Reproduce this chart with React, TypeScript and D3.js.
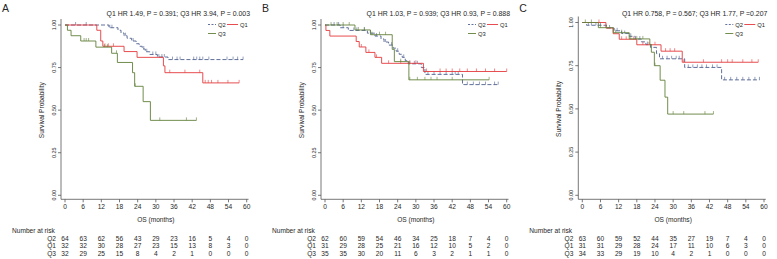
import React from "react";
import * as d3 from "d3";

// ---------- DATA ----------
const months = [0, 6, 12, 18, 24, 30, 36, 42, 48, 54, 60];
const yTicks = [0, 0.25, 0.5, 0.75, 1];
const groups = ["Q2", "Q1", "Q3"];

const titleA = "Q1 HR 1.49, P = 0.391; Q3 HR 3.94, P = 0.003";
const titleB = "Q1 HR 1.03, P = 0.939; Q3 HR 0.93, P = 0.888";
const titleC = "Q1 HR 0.758, P = 0.567; Q3 HR 1.77, P =0.207";

// events: [month, survival after event]
const eventsA_Q2 = [[14.5, 0.984], [17.5, 0.969], [18.5, 0.953], [19.5, 0.937], [20.5, 0.922], [22, 0.906], [23.5, 0.89], [24.5, 0.875], [25.5, 0.859], [26.5, 0.843], [28, 0.827], [30.5, 0.812], [34, 0.797]];
const censorA_Q2 = [3.5, 7, 14.8, 15.5, 20, 22.5, 26, 27, 29, 30, 31, 32, 32.8, 35.5, 37, 38, 42.5, 43.5, 44.5, 45.5, 47.5, 53.5, 55.5, 57, 58.8];
const eventsA_Q1 = [[10.5, 0.969], [11.8, 0.906], [12.5, 0.875], [19.5, 0.844], [23.8, 0.81], [32.5, 0.76], [33, 0.72], [45.5, 0.66]];
const censorA_Q1 = [13.2, 14.3, 16, 34.6, 39.6, 44.5, 46.3, 47.3, 48.4, 50.5, 53.8, 57.5];
const eventsA_Q3 = [[0.8, 0.969], [2, 0.937], [5.2, 0.906], [10.2, 0.87], [15.4, 0.834], [17.3, 0.78], [22.3, 0.72], [23, 0.64], [25.8, 0.55], [28.2, 0.44]];
const censorA_Q3 = [6.3, 7, 7.8, 13, 14, 17, 23.2, 31.3, 40.1, 43.4];

const eventsB_Q2 = [[5, 0.984], [7.7, 0.968], [14, 0.952], [16.5, 0.935], [18.5, 0.918], [19.5, 0.9], [21, 0.882], [22.5, 0.864], [23.5, 0.846], [24.5, 0.828], [25.5, 0.81], [26.5, 0.79], [27.5, 0.772], [31.8, 0.75], [33, 0.71], [45.4, 0.65]];
const censorB_Q2 = [3, 4.5, 6, 9.5, 10.5, 13, 15, 17, 20, 22, 24, 26, 28, 29.5, 30.5, 34, 36, 38, 40, 42, 43, 44, 47, 49, 51, 53, 56, 57.2];
const eventsB_Q1 = [[0.3, 0.968], [1.6, 0.935], [10.3, 0.903], [11.3, 0.871], [13.5, 0.839], [16.5, 0.81], [18.7, 0.775], [32.5, 0.727]];
const censorB_Q1 = [12, 14.5, 17, 21, 25, 28, 30, 33.5, 38, 40, 42, 44.5, 47, 50, 53, 56, 60];
const eventsB_Q3 = [[9.9, 0.971], [15, 0.943], [22.2, 0.857], [22.9, 0.785], [27.7, 0.678]];
const censorB_Q3 = [2, 4, 6, 8, 11, 13, 15.5, 18, 20, 25, 28, 30.5, 33, 35, 37, 42, 54.2];

const eventsC_Q2 = [[1.4, 0.984], [8, 0.968], [10.5, 0.952], [13, 0.936], [15.5, 0.92], [17.5, 0.904], [19.5, 0.888], [21, 0.872], [22.5, 0.856], [24.5, 0.82], [25.5, 0.79], [33.8, 0.74], [46, 0.668]];
const censorC_Q2 = [2, 3, 4.5, 6, 9, 11.5, 14, 16, 19, 21.5, 26.5, 28, 29.5, 31, 32, 35, 36.5, 38, 39.5, 41, 43, 44.5, 47, 49, 51, 53, 55, 57, 58.5];
const eventsC_Q1 = [[7.8, 0.968], [10.2, 0.935], [12.2, 0.903], [18, 0.871], [26, 0.834], [33, 0.77]];
const censorC_Q1 = [5.5, 13, 14.5, 17, 20, 22, 24, 27.5, 29, 30.5, 33.5, 40, 46, 48, 49.5, 53, 56, 58.1];
const eventsC_Q3 = [[5.3, 0.97], [10.2, 0.941], [15.5, 0.905], [22.3, 0.873], [22.8, 0.828], [23.8, 0.75], [25.7, 0.666], [27.3, 0.568], [28.2, 0.47]];
const censorC_Q3 = [1, 3, 6, 8, 11, 13, 16, 18, 20, 24, 30, 33.5, 40.5, 43.3];

const riskA_Q2 = [64, 63, 62, 56, 43, 29, 23, 16, 5, 4, 0];
const riskA_Q1 = [32, 32, 30, 28, 27, 23, 15, 13, 8, 3, 0];
const riskA_Q3 = [32, 29, 25, 15, 8, 4, 2, 1, 0, 0, 0];
const riskB_Q2 = [62, 60, 59, 54, 46, 34, 25, 18, 7, 4, 0];
const riskB_Q1 = [31, 29, 28, 25, 21, 16, 12, 10, 5, 2, 0];
const riskB_Q3 = [35, 35, 30, 20, 11, 6, 3, 2, 1, 1, 0];
const riskC_Q2 = [63, 60, 59, 52, 44, 35, 27, 19, 7, 4, 0];
const riskC_Q1 = [31, 31, 29, 28, 24, 17, 11, 10, 6, 3, 0];
const riskC_Q3 = [34, 33, 29, 19, 10, 4, 2, 1, 0, 0, 0];

// ---------- STYLE / LAYOUT ----------
const colors: Record<string, string> = { Q2: "#4f6190", Q1: "#e4393c", Q3: "#62803a" };
const dashes: Record<string, string | undefined> = { Q2: "4,2", Q1: undefined, Q3: undefined };
const FONT = "'Liberation Sans', Arial, Helvetica, sans-serif";
const TXT = "#262626";
const AX = "#555";

const panels = [
  {
    letter: "A", off: 0, yTop: 25, title: titleA,
    curves: { Q2: [eventsA_Q2, censorA_Q2], Q1: [eventsA_Q1, censorA_Q1], Q3: [eventsA_Q3, censorA_Q3] },
    risk: { Q2: riskA_Q2, Q1: riskA_Q1, Q3: riskA_Q3 },
  },
  {
    letter: "B", off: 260, yTop: 25, title: titleB,
    curves: { Q2: [eventsB_Q2, censorB_Q2], Q1: [eventsB_Q1, censorB_Q1], Q3: [eventsB_Q3, censorB_Q3] },
    risk: { Q2: riskB_Q2, Q1: riskB_Q1, Q3: riskB_Q3 },
  },
  {
    letter: "C", off: 517.3, yTop: 22.5, title: titleC,
    curves: { Q2: [eventsC_Q2, censorC_Q2], Q1: [eventsC_Q1, censorC_Q1], Q3: [eventsC_Q3, censorC_Q3] },
    risk: { Q2: riskC_Q2, Q1: riskC_Q1, Q3: riskC_Q3 },
  },
];

function survAt(events: number[][], t: number) {
  let s = 1;
  for (const [et, es] of events) if (et <= t) s = es;
  return s;
}

function Panel({ p }: { p: any }) {
  const o = p.off;
  const x = d3.scaleLinear().domain([0, 60]).range([65 + o, 246.7 + o]);
  const y = d3.scaleLinear().domain([0, 1]).range([195.3, p.yTop]);
  const axX = 61 + o;
  const axY = 199.3;
  const line = d3.line<number[]>().x((d) => x(d[0])).y((d) => y(d[1])).curve(d3.curveStepAfter);
  const fs = 6.6;
  return (
    <g>
      <text x={2 + o} y={12} fontSize={10.5} fill={TXT} fontFamily={FONT}>{p.letter}</text>
      <text x={250 + o} y={15.5} fontSize={6.9} fill={TXT} fontFamily={FONT} textAnchor="end">{p.title}</text>
      {/* axes */}
      <line x1={axX} x2={axX} y1={p.yTop - 6} y2={axY} stroke={AX} strokeWidth={0.8} />
      <line x1={axX} x2={248.5 + o} y1={axY} y2={axY} stroke={AX} strokeWidth={0.8} />
      {yTicks.map((t) => (
        <g key={t}>
          <line x1={axX - 3} x2={axX} y1={y(t)} y2={y(t)} stroke={AX} strokeWidth={0.8} />
          <text transform={`translate(${axX - 5.5},${y(t)}) rotate(-90)`} fontSize={5.4} fill={TXT} fontFamily={FONT} textAnchor="middle">{d3.format(".2f")(t)}</text>
        </g>
      ))}
      <text transform={`translate(${44 + o},${(y(0) + y(1)) / 2}) rotate(-90)`} fontSize={fs} fill={TXT} fontFamily={FONT} textAnchor="middle">Survival Probability</text>
      {months.map((m) => (
        <g key={m}>
          <line x1={x(m)} x2={x(m)} y1={axY} y2={axY + 3} stroke={AX} strokeWidth={0.8} />
          <text x={x(m)} y={208.8} fontSize={fs} fill={TXT} fontFamily={FONT} textAnchor="middle">{m}</text>
        </g>
      ))}
      <text x={(x(0) + x(60)) / 2} y={221.5} fontSize={fs} fill={TXT} fontFamily={FONT} textAnchor="middle">OS (months)</text>
      {/* curves */}
      {groups.map((g) => {
        const [ev, cs] = p.curves[g];
        const tEnd = Math.max(d3.max(cs as number[]) ?? 0, d3.max(ev as number[][], (d) => d[0]) ?? 0);
        const pts = [[0, 1], ...ev, [tEnd, ev[ev.length - 1][1]]];
        return (
          <g key={g}>
            <path d={line(pts) ?? ""} fill="none" stroke={colors[g]} strokeWidth={0.9} strokeDasharray={dashes[g]} />
            {(cs as number[]).map((t, i) => {
              const s = survAt(ev, t);
              return <line key={i} x1={x(t)} x2={x(t)} y1={y(s)} y2={y(s) - 3} stroke={colors[g]} strokeWidth={0.6} />;
            })}
          </g>
        );
      })}
      {/* legend */}
      <g fontFamily={FONT} fontSize={5.8} fill={TXT}>
        <line x1={208 + o} x2={216 + o} y1={24.5} y2={24.5} stroke={colors.Q2} strokeWidth={0.9} strokeDasharray="2,1.5" />
        <text x={218 + o} y={26.6}>Q2</text>
        <line x1={227 + o} x2={238 + o} y1={24.5} y2={24.5} stroke={colors.Q1} strokeWidth={0.9} />
        <text x={240 + o} y={26.6}>Q1</text>
        <line x1={208 + o} x2={216 + o} y1={33.5} y2={33.5} stroke={colors.Q3} strokeWidth={0.9} />
        <text x={218 + o} y={35.6}>Q3</text>
      </g>
      {/* risk table */}
      <text x={12 + o} y={232.5} fontSize={fs} fill={TXT} fontFamily={FONT}>Number at risk</text>
      {groups.map((g, gi) => (
        <g key={g} fontFamily={FONT} fontSize={fs} fill={TXT}>
          <text x={56 + o} y={240.5 + gi * 7.5} textAnchor="end">{g}</text>
          {(p.risk[g] as number[]).map((n, i) => (
            <text key={i} x={x(months[i])} y={240.5 + gi * 7.5} textAnchor="middle">{n}</text>
          ))}
        </g>
      ))}
    </g>
  );
}

export default function App() {
  return (
    <svg width={777} height={259} style={{ position: "absolute", left: 0, top: 0, background: "#fff" }}>
      <rect width={777} height={259} fill="#fff" />
      {panels.map((p) => (
        <Panel key={p.letter} p={p} />
      ))}
    </svg>
  );
}
